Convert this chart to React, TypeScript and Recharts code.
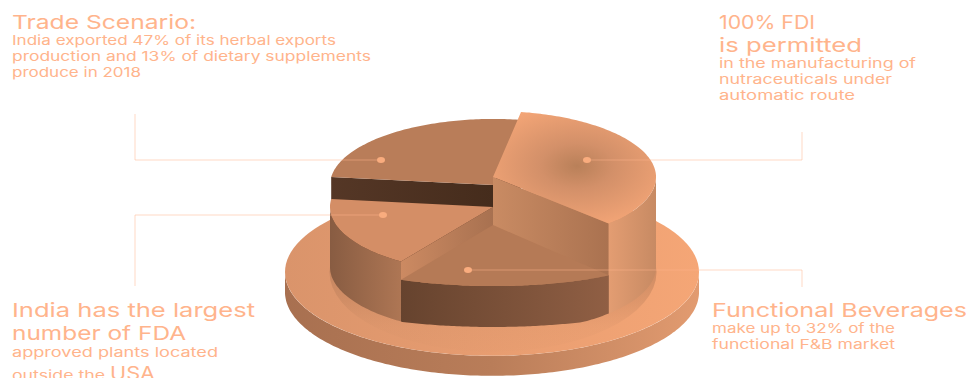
import { Pie, PieChart } from "recharts"

// Stepped 3D pie on a round plate with four call-outs
const sliceNames = ["Trade Scenario", "100% FDI", "Functional Beverages", "FDA plants"]
const sliceShares = [25.8, 34.7, 22.1, 17.4]
const sliceHeights = [82, 90, 42, 60]
const plateShare = [100]
const plateHeight = [20]

const sliceTops = ["#B97D59", "url(#fdiTop)", "#B57A56", "#D48E66"]
const sliceFaces = ["url(#tradeFace)", "url(#fdiFace)", "none", "url(#plantsFace)"]
const sliceWalls = ["none", "url(#fdiWall)", "url(#drinksWall)", "url(#plantsWall)"]

const FRONT_SLICE = 2
const TILT = 0.405
const TEXT = "#FFB48C"
const FONT = "Inter, sans-serif"

const pieData = sliceNames.map((name, i) => ({
  name,
  share: sliceShares[i],
  height: sliceHeights[i],
  top: sliceTops[i],
  face: sliceFaces[i],
  wall: sliceWalls[i],
  flat: i === FRONT_SLICE,
}))
const plateData = [{ name: "plate", share: plateShare[0], height: plateHeight[0] }]

// x, y, size, weight, right edge (text is fitted to it), text
const copy: [number, number, number, number, number, string][] = [
  [12, 29, 19, 400, 196, "Trade Scenario:"],
  [12, 45, 13, 400, 336, "India exported 47% of its herbal exports"],
  [12, 61, 13, 400, 371, "production and 13% of dietary supplements"],
  [12, 77, 13, 400, 141, "produce in 2018"],
  [719, 29, 19, 400, 815, "100% FDI"],
  [719, 52, 19, 400, 862, "is permitted"],
  [719, 68, 13, 400, 916, "in the manufacturing of"],
  [719, 84, 13, 400, 892, "nutraceuticals under"],
  [719, 100, 13, 400, 855, "automatic route"],
  [12, 317, 19, 400, 255, "India has the largest"],
  [12, 340, 19, 400, 186, "number of FDA"],
  [12, 357, 13, 400, 218, "approved plants located"],
  [12, 380, 13, 400, 105, "outside the"],
  [110, 380, 19, 400, 155, "USA"],
  [712, 317, 19, 400, 967, "Functional Beverages"],
  [712, 333, 13, 400, 895, "make up to 32% of the"],
  [712, 349, 13, 400, 895, "functional F&B market"],
]

// elbow lines from each slice out to its text: dot, corner, end
const leaders = [
  [381, 160, 135, 160, 135, 114],
  [587, 160, 802, 160, 802, 132],
  [383, 215, 135, 215, 135, 286],
  [468, 270, 802, 270, 802, 287],
]

const rad = (deg: number) => (deg * Math.PI) / 180

const project = (cx: number, cy: number, r: number, deg: number, lift: number) => [
  cx + r * Math.cos(rad(deg)),
  cy - r * Math.sin(rad(deg)) * TILT - lift,
]

// the front slice has a shallower rim than a true ellipse, top and bottom differ a bit
const flatTop = (dy: number) => 24.7 + dy * 0.55
const flatBase = (dy: number) => Math.min(dy, 55 + (dy - 55) * 0.45)

const toPath = (pts: number[][]) =>
  pts.map((p, i) => `${i ? "L" : "M"}${p[0].toFixed(1)} ${p[1].toFixed(1)}`).join(" ") + " Z"

// angles from start down to end, clockwise on screen
const sweep = (start: number, end: number) => {
  const out: number[] = []
  for (let a = start; a > end; a -= 1) out.push(a)
  out.push(end)
  return out
}

function Slice3D(props: any) {
  const { cx, cy, outerRadius: r, startAngle, endAngle, payload } = props
  const lift = payload.height
  const arc = sweep(startAngle, endAngle)
  const front = arc.filter((a) => Math.sin(rad(a)) <= 0)

  const rim = (a: number) => {
    const p = project(cx, cy, r, a, lift)
    return payload.flat ? [p[0], cy - lift + flatTop(p[1] - cy + lift)] : p
  }
  const base = (a: number) => {
    const p = project(cx, cy, r, a, 0)
    return payload.flat ? [p[0], cy + flatBase(p[1] - cy)] : p
  }

  const face = (deg: number) => [[cx, cy - lift], rim(deg), base(deg), [cx, cy]]
  const faces = []
  if (Math.cos(rad(startAngle)) < 0) faces.push(face(startAngle))
  if (Math.cos(rad(endAngle)) > 0) faces.push(face(endAngle))

  return (
    <g>
      {faces.map((f, i) => (
        <path key={i} d={toPath(f)} fill={payload.face} />
      ))}
      {front.length > 1 && (
        <path d={toPath([...front.map(rim), ...[...front].reverse().map(base)])} fill={payload.wall} />
      )}
      <path d={toPath([[cx, cy - lift], ...arc.map(rim)])} fill={payload.top} />
    </g>
  )
}

function Plate(props: any) {
  const { cx, cy, outerRadius: r, payload } = props
  const lift = payload.height
  const lower = sweep(0, -180)
  return (
    <g>
      <path
        d={toPath([
          ...lower.map((a) => project(cx, cy, r, a, lift)),
          ...[...lower].reverse().map((a) => project(cx, cy, r, a, 0)),
        ])}
        fill="url(#plateWall)"
      />
      <ellipse cx={cx} cy={cy - lift} rx={r} ry={r * TILT} fill="url(#plateTop)" />
      {/* soft shadow the pie drops on the plate */}
      <ellipse cx={cx + 1} cy={cy - lift} rx={r * 0.79} ry={r * 0.385} fill="url(#plateShadow)" />
    </g>
  )
}

export default function App() {
  return (
    <div style={{ position: "absolute", left: 0, top: 0, width: 968, height: 378, background: "#fff", overflow: "hidden" }}>
      <PieChart width={968} height={378} margin={{ top: 0, right: 0, bottom: 0, left: 0 }}>
        <defs>
          <linearGradient id="plateTop">
            <stop offset="0" stopColor="#DA946B" />
            <stop offset="1" stopColor="#F5A676" />
          </linearGradient>
          <linearGradient id="plateWall">
            <stop offset="0" stopColor="#A87050" />
            <stop offset="0.5" stopColor="#B97D59" />
            <stop offset="1" stopColor="#E29B70" />
          </linearGradient>
          <linearGradient id="plateShadow" x1="0" y1="0" x2="0" y2="1">
            <stop offset="0.5" stopColor="#B97D59" stopOpacity={0.6} />
            <stop offset="0.68" stopColor="#B97D59" stopOpacity={0.35} />
            <stop offset="0.85" stopColor="#C98A63" stopOpacity={0.12} />
            <stop offset="1" stopColor="#C98A63" stopOpacity={0.04} />
          </linearGradient>
          <radialGradient id="fdiTop" gradientUnits="userSpaceOnUse" cx={577} cy={166} r={105} gradientTransform="translate(577 166) scale(1 .62) translate(-577 -166)">
            <stop offset="0" stopColor="#B98059" />
            <stop offset="0.35" stopColor="#D39069" />
            <stop offset="1" stopColor="#F5A677" />
          </radialGradient>
          <linearGradient id="fdiFace">
            <stop offset="0" stopColor="#C98B63" />
            <stop offset="1" stopColor="#AA7250" />
          </linearGradient>
          <linearGradient id="fdiWall">
            <stop offset="0" stopColor="#E39D72" />
            <stop offset="1" stopColor="#C78A63" />
          </linearGradient>
          <linearGradient id="tradeFace">
            <stop offset="0" stopColor="#553726" />
            <stop offset="1" stopColor="#452C1C" />
          </linearGradient>
          <linearGradient id="drinksWall">
            <stop offset="0" stopColor="#66432E" />
            <stop offset="1" stopColor="#905F44" />
          </linearGradient>
          <linearGradient id="plantsWall">
            <stop offset="0" stopColor="#885C42" />
            <stop offset="1" stopColor="#AE7654" />
          </linearGradient>
          <linearGradient id="plantsFace">
            <stop offset="0" stopColor="#CC8A62" />
            <stop offset="1" stopColor="#A87150" />
          </linearGradient>
        </defs>

        <Pie
          data={plateData}
          dataKey="share"
          cx={492}
          cy={292}
          outerRadius={207}
          startAngle={180}
          endAngle={-180}
          stroke="none"
          isAnimationActive={false}
          shape={Plate}
        />
        {/* the low front slice has to sit above its left neighbour's cut face */}
        <Pie
          data={pieData}
          dataKey="share"
          cx={493}
          cy={267}
          outerRadius={163}
          startAngle={173}
          endAngle={-187}
          stroke="none"
          isAnimationActive={false}
          shape={(p: any) => (p.index === FRONT_SLICE ? <g /> : <Slice3D {...p} />)}
        />
        <Pie
          data={pieData}
          dataKey="share"
          cx={493}
          cy={267}
          outerRadius={163}
          startAngle={173}
          endAngle={-187}
          stroke="none"
          isAnimationActive={false}
          shape={(p: any) => (p.index === FRONT_SLICE ? <Slice3D {...p} /> : <g />)}
        />
      </PieChart>

      {/* leaders and copy go on a separate layer, Recharts paints pies over its svg children */}
      <svg width={968} height={378} style={{ position: "absolute", left: 0, top: 0 }}>
        {leaders.map((l, i) => (
          <g key={i}>
            <polyline
              points={`${l[0]},${l[1]} ${l[2]},${l[3]} ${l[4]},${l[5]}`}
              fill="none"
              stroke="#FFB58C"
              strokeOpacity={0.5}
              strokeWidth={1}
            />
            <ellipse cx={l[0]} cy={l[1]} rx={4} ry={3} fill="#F9AC7E" />
          </g>
        ))}
        {copy.map(([x, y, size, weight, right, str]) => (
          <text
            key={str}
            x={x}
            y={y}
            fontSize={size}
            fontWeight={weight}
            fontFamily={FONT}
            fill={TEXT}
            textLength={right - x}
            lengthAdjust="spacingAndGlyphs"
          >
            {str}
          </text>
        ))}
      </svg>
    </div>
  )
}
